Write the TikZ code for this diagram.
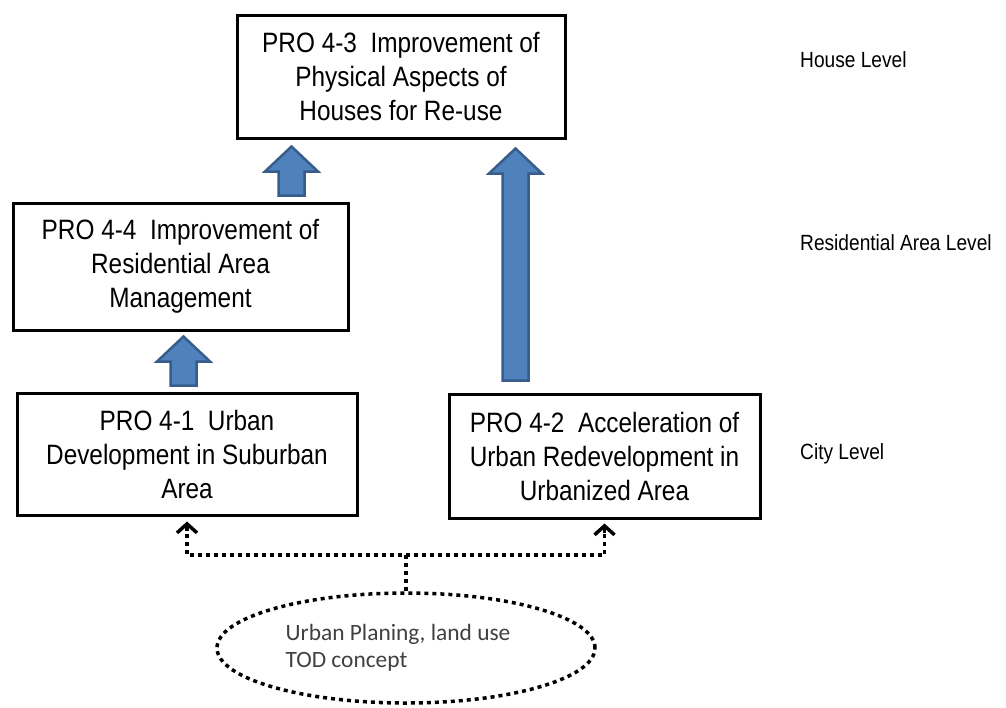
\documentclass[tikz,border=0pt]{standalone}
\usepackage{fontspec}
\newfontfamily\narrowfont{Liberation Sans}[FakeStretch=0.87]
\newfontfamily\calfont{Carlito}
\usetikzlibrary{arrows.meta,calc,shapes.geometric}

\definecolor{bleubloc}{RGB}{79,129,189}
\definecolor{bordbloc}{RGB}{56,93,138}

% fleche pleine verticale : #1 pied, #2 pointe
\newcommand{\flechebloc}[2]{%
  \draw[bloc] let \p1=(#1), \p2=(#2) in
    (\x1-13pt,\y1) -- (\x1-13pt,\y2-25pt) -- (\x1-26.5pt,\y2-25pt) -- (\x1,\y2)
    -- (\x1+26.5pt,\y2-25pt) -- (\x1+13pt,\y2-25pt) -- (\x1+13pt,\y1) -- cycle;
}

\begin{document}
\begin{tikzpicture}[
  x=1pt,y=-1pt,
  boite/.style={draw,line width=3pt,align=center,inner sep=0pt,
    font=\narrowfont\fontsize{28}{34}\selectfont},
  niveau/.style={anchor=west,inner sep=0pt,
    font=\narrowfont\fontsize{22}{26}\selectfont},
  bloc/.style={fill=bleubloc,draw=bordbloc,line width=2.5pt},
  pointille/.style={line width=3.5pt,dash pattern=on 4pt off 4pt},
  pointe/.style={line width=3.5pt,
    -{Straight Barb[length=9pt,width=20pt,line width=3.5pt]}},
]
  \useasboundingbox (0,0) rectangle (1006,707);

  % Boites
  \node[boite,minimum width=328pt,minimum height=123pt] (p43) at (401,76.5)
    {PRO 4-3\ \ Improvement of\\Physical Aspects of\\Houses for Re-use};
  \node[boite,minimum width=335pt,minimum height=127pt] (p44) at (180.5,266.5)
    {PRO 4-4\ \ Improvement of\\Residential Area\\Management};
  \node[boite,minimum width=340pt,minimum height=122pt] (p41) at (187,454)
    {PRO 4-1\ \ Urban\\Development in Suburban\\Area};
  \node[boite,minimum width=311pt,minimum height=124pt] (p42) at (604.5,456)
    {PRO 4-2\ \ Acceleration of\\Urban Redevelopment in\\Urbanized Area};

  % Niveaux
  \node[niveau] (nmaison) at (800,60)  {House Level};
  \node[niveau] (nquart)  at (800,243) {Residential Area Level};
  \node[niveau] (nville)  at (800,454) {City Level};

  % Ellipse
  \node[ellipse,draw,pointille,minimum width=378pt,minimum height=110pt,
    align=left,text=black!75,font=\calfont\fontsize{23.4}{27}\selectfont]
    (ell) at (406,648) {Urban Planing, land use\hspace*{16pt}\\TOD concept};

  % Fleches pleines
  \coordinate (f1p) at ($(p44.north -| 291.5,0)+(0,-6)$);
  \coordinate (f1t) at ($(p43.south -| 291.5,0)+(0,7)$);
  \coordinate (f2p) at ($(p41.north -| 183.5,0)+(0,-6)$);
  \coordinate (f2t) at ($(p44.south -| 183.5,0)+(0,5)$);
  \coordinate (f3p) at ($(p42.north -| 515.5,0)+(0,-12)$);
  \coordinate (f3t) at ($(p43.south -| 515.5,0)+(0,9)$);
  \flechebloc{f1p}{f1t}
  \flechebloc{f2p}{f2t}
  \flechebloc{f3p}{f3t}

  % Liaisons pointillees
  \coordinate (noeud) at (ell.north |- 0,555);
  \coordinate (g1) at ($(p41.south)+(0,14)$);
  \coordinate (g2) at ($(p42.south)+(0,13)$);
  \draw[pointille] (ell.north) -- (noeud) -| (g1);
  \draw[pointille] (noeud) -| (g2);
  \draw[pointe] (g1) -- ([yshift=-5pt]p41.south);
  \draw[pointe] (g2) -- ([yshift=-4pt]p42.south);
\end{tikzpicture}
\end{document}
